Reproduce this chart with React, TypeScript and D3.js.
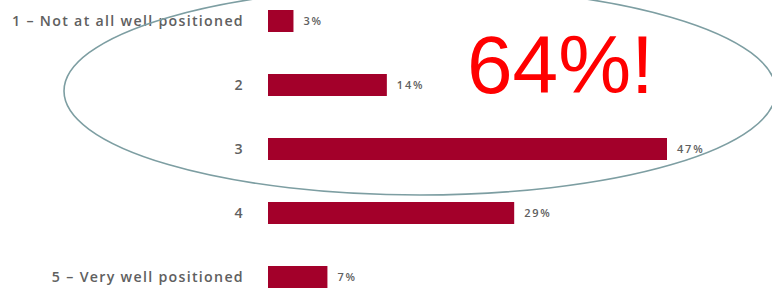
import React from "react";
import * as d3 from "d3";

const categories = [
  "1 – Not at all well positioned",
  "2",
  "3",
  "4",
  "5 – Very well positioned",
];
const values = [3, 14, 47, 29, 7];
const valueLabels = ["3%", "14%", "47%", "29%", "7%"];
const callout = "64%!";

const W = 772;
const H = 290;

const App = () => {
  const x = d3.scaleLinear().domain([0, 47]).range([268, 667]);
  const y = d3.scalePoint<string>().domain(categories).range([21, 277]);
  const barH = 22;

  return (
    <svg
      width={W}
      height={H}
      style={{ position: "absolute", left: 0, top: 0, background: "#fff" }}
    >
      {categories.map((c, i) => {
        const cy = y(c)!;
        return (
          <g key={c}>
            <text
              x={244}
              y={cy}
              dy="0.35em"
              textAnchor="end"
              fontFamily="'Open Sans', sans-serif"
              fontSize={14.2}
              fontWeight={600}
              letterSpacing={1.3}
              fill="#606060"
            >
              {c}
            </text>
            <rect
              x={x(0)}
              y={cy - barH / 2}
              width={x(values[i]) - x(0)}
              height={barH}
              fill="#a3002a"
            />
            <text
              x={x(values[i]) + 10}
              y={cy}
              dy="0.35em"
              fontFamily="'Open Sans', sans-serif"
              fontSize={11}
              fontWeight={600}
              letterSpacing={1.8}
              fill="#606060"
            >
              {valueLabels[i]}
            </text>
          </g>
        );
      })}
      <ellipse
        cx={420}
        cy={91}
        rx={356}
        ry={104}
        fill="none"
        stroke="#7d9ea2"
        strokeWidth={1.6}
      />
      <text
        x={467}
        y={93}
        fontFamily="'Liberation Sans', Arial, sans-serif"
        fontSize={82}
        fill="#ff0000"
      >
        {callout}
      </text>
    </svg>
  );
};

export default App;
